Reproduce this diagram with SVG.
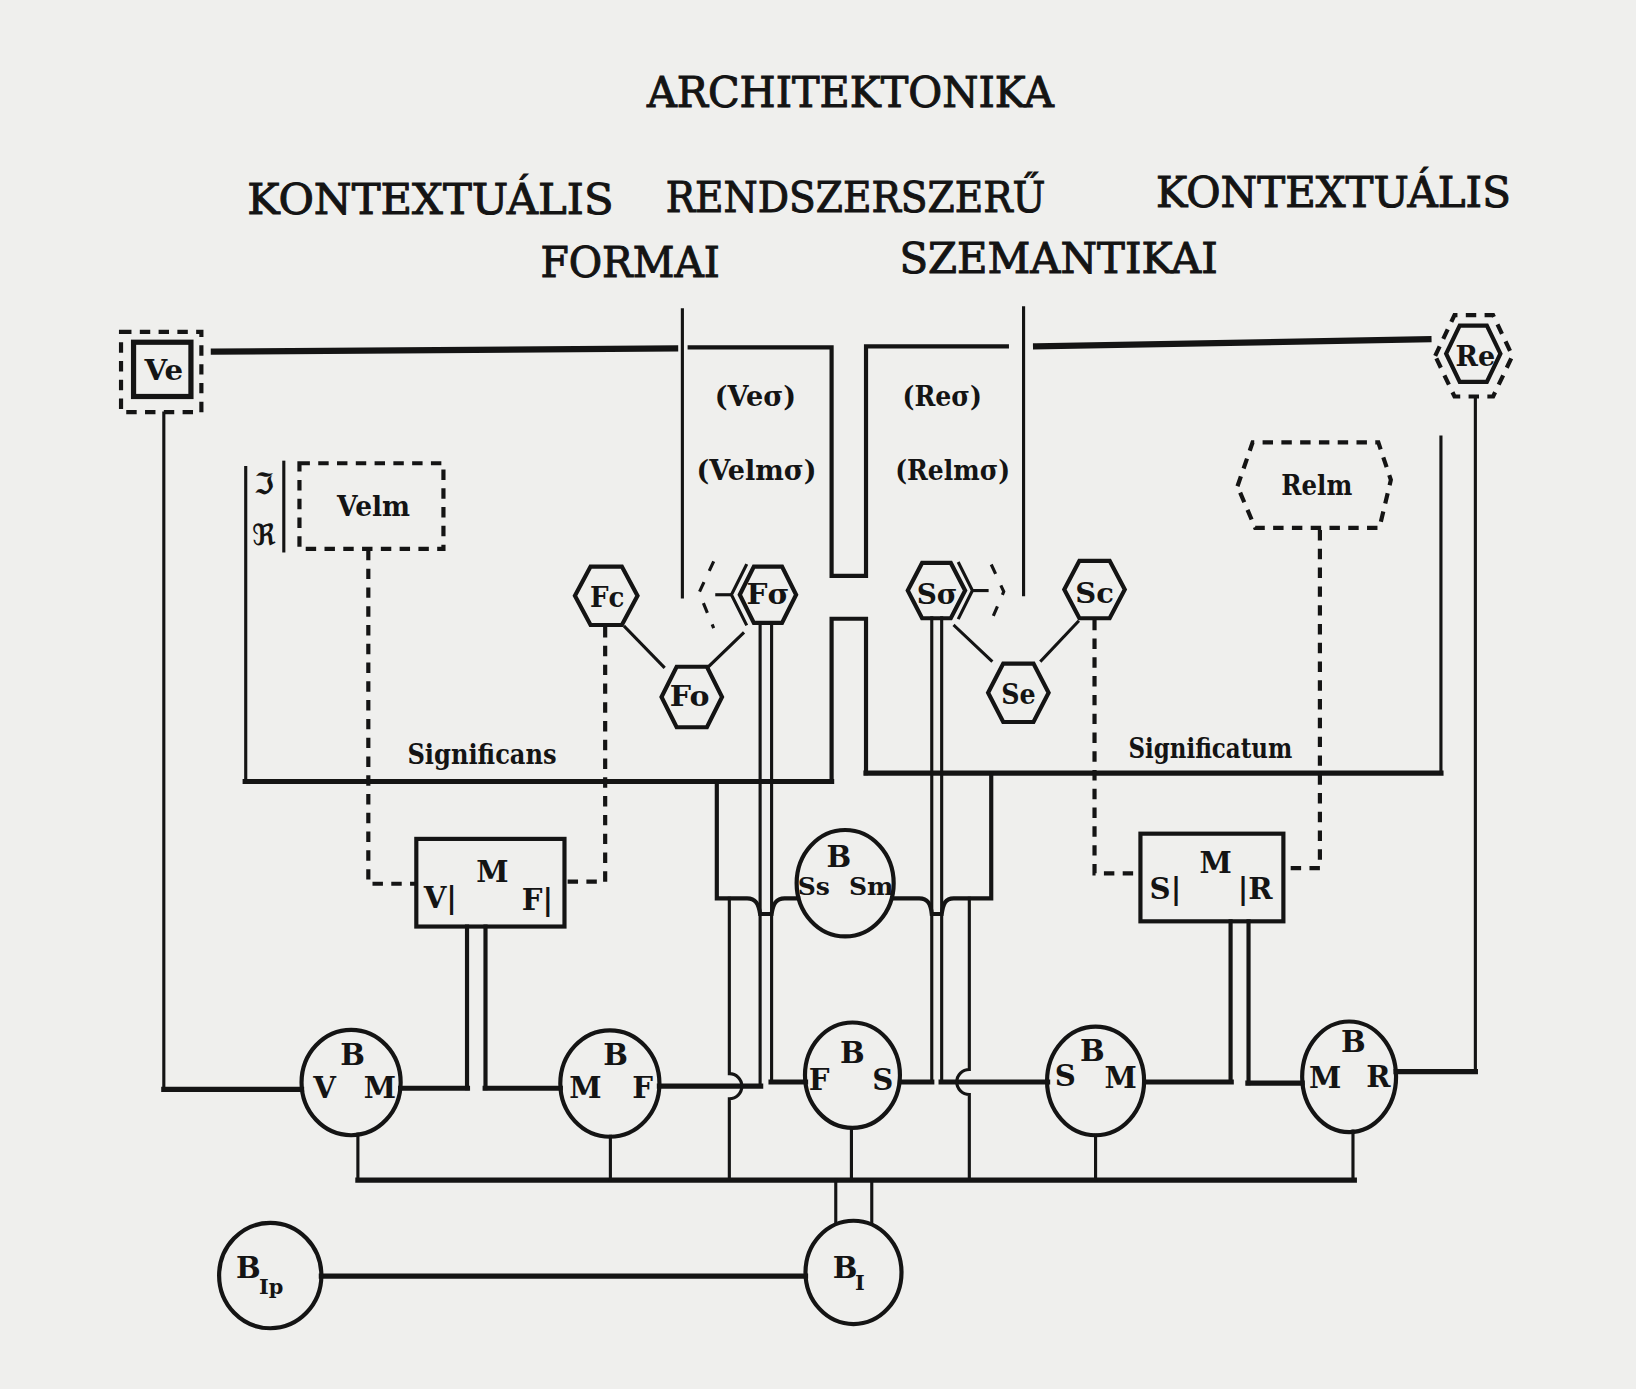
<svg xmlns="http://www.w3.org/2000/svg" width="1636" height="1389" viewBox="0 0 1636 1389">
<defs>
<style>
.bg{fill:#efefed}
.ln{fill:none;stroke:#141414;stroke-linecap:square;stroke-linejoin:miter}
.thick{stroke-width:5}
.xthick{stroke-width:6}
.mid{stroke-width:4}
.thin{stroke-width:3}
.dash{fill:none;stroke:#141414;stroke-width:4;stroke-dasharray:10 8}
.node{fill:none;stroke:#141414;stroke-width:4}
.circ{fill:none;stroke:#141414;stroke-width:4}
.title{font-family:"DejaVu Serif","Liberation Serif",serif;font-size:41px;fill:#141414;stroke:#141414;stroke-width:1;text-anchor:middle}
.lab{font-family:"DejaVu Serif","Liberation Serif",serif;font-weight:bold;font-size:27px;fill:#141414;text-anchor:middle}
.hx{font-family:"DejaVu Serif","Liberation Serif",serif;font-weight:bold;font-size:27px;fill:#141414;text-anchor:middle}
.cl{font-family:"DejaVu Serif","Liberation Serif",serif;font-weight:bold;font-size:28px;fill:#141414;text-anchor:middle}
.cs{font-family:"DejaVu Serif","Liberation Serif",serif;font-weight:bold;font-size:24px;fill:#141414;text-anchor:middle}
.sub{font-family:"DejaVu Serif","Liberation Serif",serif;font-weight:bold;font-size:20px;fill:#141414;text-anchor:middle}
</style>
</defs>
<rect class="bg" x="0" y="0" width="1636" height="1389"/>
<g transform="scale(1.0434)">
<g id="titles">
<text class="title" x="815" y="103" textLength="390" lengthAdjust="spacingAndGlyphs">ARCHITEKTONIKA</text>
<text class="title" x="412.5" y="205" textLength="351" lengthAdjust="spacingAndGlyphs">KONTEXTUÁLIS</text>
<text class="title" x="820" y="203" textLength="364" lengthAdjust="spacingAndGlyphs">RENDSZERSZERŰ</text>
<text class="title" x="1278" y="198" textLength="340" lengthAdjust="spacingAndGlyphs">KONTEXTUÁLIS</text>
<text class="title" x="604" y="265" textLength="172" lengthAdjust="spacingAndGlyphs">FORMAI</text>
<text class="title" x="1014.5" y="262" textLength="305" lengthAdjust="spacingAndGlyphs">SZEMANTIKAI</text>
</g>
<g id="connectors">
<path class="ln xthick" d="M205,337 L647,334"/>
<path class="ln mid" d="M661,333 H797 V552 H830 V332 H965"/>
<path class="ln xthick" d="M993,332 L1369,325"/>
<path class="ln thin" d="M654,297 V572"/>
<path class="ln thin" d="M981,295 V570"/>
<path class="ln thin" d="M157,396 V1044"/>
<path class="ln thick" d="M157,1044 H289"/>
<path class="ln thin" d="M1414,380 V1027"/>
<path class="ln thick" d="M1414,1027 H1338"/>
<path class="ln thin" d="M235.5,448 V749"/>
<path class="ln thin" d="M272,443 V528"/>
<path class="ln thick" d="M235,749 H797"/>
<path class="ln mid" d="M797,749 V593 H830 V741"/>
<path class="ln thick" d="M830,741 H1381"/>
<path class="ln thin" d="M1381,741 V419"/>
<path class="ln thin" d="M599,601 L636,639"/>
<path class="ln thin" d="M679,639 L712,607"/>
<path class="ln thin" d="M915,600 L950,633"/>
<path class="ln thin" d="M998,633 L1033,596"/>
<path class="dash" d="M353,527 V847 H399"/>
<path class="dash" d="M580,601 V845 H541"/>
<path class="dash" d="M1049,594 V837 H1093"/>
<path class="dash" d="M1265,508 V832 H1231"/>
<path class="ln thin" d="M728.5,597 V1041"/>
<path class="ln thick" d="M632,1041 H729"/>
<path class="ln thin" d="M739.5,597 V1037"/>
<path class="ln thick" d="M739,1037 H772"/>
<path class="ln thin" d="M893,592 V1037"/>
<path class="ln thick" d="M863,1037 H893"/>
<path class="ln thin" d="M902.5,592 V1037"/>
<path class="ln thick" d="M902,1037 H1004"/>
<path class="ln mid" d="M687,749 V861 H716 C724,861 727,866 728.5,876 H739.5 C741,866 744,861 752,861 H765"/>
<path class="ln mid" d="M950,741 V861 H914 C906,861 904,866 902.5,876 H893 C892,866 889,861 881,861 H855"/>
<path class="ln thin" d="M699,861 V1029 A12,12 0 0 1 699,1053 V1131"/>
<path class="ln thin" d="M929,861 V1025 A12,12 0 0 0 929,1049 V1131"/>
<path class="ln mid" d="M447.6,888 V1043"/>
<path class="ln thick" d="M384,1043 H448"/>
<path class="ln mid" d="M465.3,888 V1043"/>
<path class="ln thick" d="M465,1043 H537"/>
<path class="ln mid" d="M1179.4,883 V1037"/>
<path class="ln thick" d="M1097,1037 H1180"/>
<path class="ln mid" d="M1196.6,883 V1038"/>
<path class="ln thick" d="M1196,1038 H1248"/>
<path class="ln thick" d="M343,1131 H1298"/>
<path class="ln thin" d="M343,1087 V1131"/>
<path class="ln thin" d="M585,1089 V1131"/>
<path class="ln thin" d="M816,1081 V1131"/>
<path class="ln thin" d="M1050,1088 V1131"/>
<path class="ln thin" d="M1296.7,1084 V1131"/>
<path class="ln thin" d="M801,1131 V1172"/>
<path class="ln thin" d="M835.5,1131 V1172"/>
<path class="ln thick" d="M308,1223 H772"/>
</g>
<g id="Ve">
<rect class="dash" x="116" y="318" width="77" height="77"/>
<rect class="node" x="128" y="328" width="55" height="52" style="stroke-width:5"/>
<text class="hx" x="157" y="364" textLength="37" lengthAdjust="spacingAndGlyphs">Ve</text>
</g>
<g id="Re">
<polygon class="dash" points="1375.5,341 1394,302 1431,302 1449.5,341 1431,380 1394,380"/>
<polygon class="node" points="1386,339 1399,312 1425,312 1438,339 1425,366 1399,366"/>
<text class="hx" x="1414" y="351" textLength="38" lengthAdjust="spacingAndGlyphs">Re</text>
</g>
<g id="Veσ-labels">
<text class="lab" x="724" y="389" textLength="78" lengthAdjust="spacingAndGlyphs">(Veσ)</text>
<text class="lab" x="725" y="460" textLength="115" lengthAdjust="spacingAndGlyphs">(Velmσ)</text>
</g>
<g id="Reσ-labels">
<text class="lab" x="903" y="389" textLength="76" lengthAdjust="spacingAndGlyphs">(Reσ)</text>
<text class="lab" x="913" y="460" textLength="110" lengthAdjust="spacingAndGlyphs">(Relmσ)</text>
</g>
<g id="frakturs">
<text class="lab" x="253" y="473" style="font-family:'DejaVu Sans',sans-serif;font-size:28px">ℑ</text>
<text class="lab" x="253" y="522" style="font-family:'DejaVu Sans',sans-serif;font-size:28px">ℜ</text>
</g>
<g id="Velm">
<rect class="dash" x="287" y="444" width="138" height="82"/>
<text class="lab" x="358" y="495" textLength="70" lengthAdjust="spacingAndGlyphs">Velm</text>
</g>
<g id="Relm">
<polygon class="dash" points="1186,466 1200.5,424 1321,424 1333,460 1322,506 1203,506"/>
<text class="lab" x="1262" y="474" textLength="68" lengthAdjust="spacingAndGlyphs">Relm</text>
</g>
<g id="Fc">
<polygon class="node" points="551,571 566,543 596,543 611,571 596,599 566,599"/>
<text class="hx" x="582" y="582" textLength="33" lengthAdjust="spacingAndGlyphs">Fc</text>
</g>
<g id="Fσ">
<path class="dash" d="M684,538 L670,568 L684,602" style="stroke-dasharray:10 12;stroke-width:3"/>
<path class="ln thin" d="M687,570 H701"/>
<path class="ln thin" d="M715,542 L701,570 L715,598"/>
<polygon class="node" points="709,570 722.5,543 749.5,543 763,570 749.5,597 722.5,597"/>
<text class="hx" x="736" y="579" textLength="41" lengthAdjust="spacingAndGlyphs">Fσ</text>
</g>
<g id="Fo">
<polygon class="node" points="634,668 648.5,639 677.5,639 692,668 677.5,697 648.5,697"/>
<text class="hx" x="661" y="677" textLength="38" lengthAdjust="spacingAndGlyphs">Fo</text>
</g>
<g id="Sσ">
<polygon class="node" points="870,566 883.75,539.5 911.25,539.5 925,566 911.25,592.5 883.75,592.5"/>
<path class="ln thin" d="M919,540 L932,566 L919,592"/>
<path class="ln thin" d="M932,566 H946"/>
<path class="dash" d="M950,541 L962,567 L950,595" style="stroke-dasharray:10 12;stroke-width:3"/>
<text class="hx" x="898" y="579" textLength="39" lengthAdjust="spacingAndGlyphs">Sσ</text>
</g>
<g id="Sc">
<polygon class="node" points="1020,565 1034.5,537.5 1063.5,537.5 1078,565 1063.5,592.5 1034.5,592.5"/>
<text class="hx" x="1049" y="578" textLength="37" lengthAdjust="spacingAndGlyphs">Sc</text>
</g>
<g id="Se">
<polygon class="node" points="947,664 961.5,636 990.5,636 1005,664 990.5,692 961.5,692"/>
<text class="hx" x="976" y="675" textLength="33" lengthAdjust="spacingAndGlyphs">Se</text>
</g>
<g id="Significans">
<text class="lab" x="462" y="732" textLength="143" lengthAdjust="spacingAndGlyphs">Significans</text>
</g>
<g id="Significatum">
<text class="lab" x="1160" y="726" textLength="157" lengthAdjust="spacingAndGlyphs">Significatum</text>
</g>
<g id="VMF">
<rect class="node" x="399" y="804" width="142" height="84"/>
<text class="cl" x="422" y="870">V|</text>
<text class="cl" x="472" y="845">M</text>
<text class="cl" x="515" y="872">F|</text>
</g>
<g id="SMR">
<rect class="node" x="1093" y="799" width="137" height="84"/>
<text class="cl" x="1117" y="862">S|</text>
<text class="cl" x="1165" y="837">M</text>
<text class="cl" x="1203" y="862">|R</text>
</g>
<g id="BSsSm">
<ellipse class="circ" cx="810" cy="846.5" rx="46.5" ry="51"/>
<text class="cl" x="804" y="831">B</text>
<text class="cs" x="780" y="858">Ss</text>
<text class="cs" x="835" y="858">Sm</text>
</g>
<g id="VBM">
<ellipse class="circ" cx="336.5" cy="1037.5" rx="47.5" ry="50.5"/>
<text class="cl" x="338" y="1021">B</text>
<text class="cl" x="311" y="1052">V</text>
<text class="cl" x="364" y="1052">M</text>
</g>
<g id="MBF">
<ellipse class="circ" cx="584.5" cy="1038.5" rx="47.5" ry="51"/>
<text class="cl" x="590" y="1021">B</text>
<text class="cl" x="561" y="1052">M</text>
<text class="cl" x="616" y="1052">F</text>
</g>
<g id="FBS">
<ellipse class="circ" cx="817" cy="1030.5" rx="45.5" ry="50.5"/>
<text class="cl" x="817" y="1019">B</text>
<text class="cl" x="785" y="1045">F</text>
<text class="cl" x="846" y="1045">S</text>
</g>
<g id="SBM">
<ellipse class="circ" cx="1050" cy="1036" rx="46.5" ry="52"/>
<text class="cl" x="1047" y="1017">B</text>
<text class="cl" x="1021" y="1041">S</text>
<text class="cl" x="1074" y="1043">M</text>
</g>
<g id="MBR">
<ellipse class="circ" cx="1293" cy="1032" rx="45" ry="53"/>
<text class="cl" x="1297" y="1008">B</text>
<text class="cl" x="1270" y="1043">M</text>
<text class="cl" x="1321" y="1042">R</text>
</g>
<g id="BI">
<ellipse class="circ" cx="818" cy="1219.5" rx="46" ry="49.5"/>
<text class="cl" x="810" y="1225">B</text>
<text class="sub" x="824" y="1236">I</text>
</g>
<g id="BIp">
<ellipse class="circ" cx="259" cy="1222.5" rx="49" ry="50.5"/>
<text class="cl" x="238" y="1225">B</text>
<text class="sub" x="260" y="1240">Ip</text>
</g>
</g>
</svg>
